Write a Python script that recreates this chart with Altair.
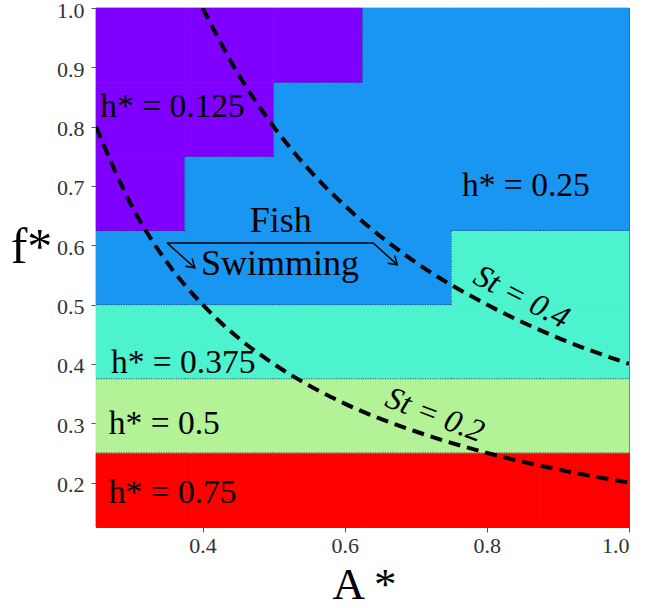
import altair as alt
import pandas as pd

# ---- data ----
A_EDGES = [0.25, 0.375, 0.5, 0.625, 0.75, 0.875, 1.0]
F_EDGES = [0.125, 0.25, 0.375, 0.5, 0.625, 0.75, 0.875, 1.0]
# h* per cell, rows from bottom (f=0.125) to top, columns from A=0.25 to 1.0
H_ROWS = [
    [0.75, 0.75, 0.75, 0.75, 0.75, 0.75],
    [0.5, 0.5, 0.5, 0.5, 0.5, 0.5],
    [0.375, 0.375, 0.375, 0.375, 0.375, 0.375],
    [0.25, 0.25, 0.25, 0.25, 0.375, 0.375],
    [0.125, 0.25, 0.25, 0.25, 0.25, 0.25],
    [0.125, 0.125, 0.25, 0.25, 0.25, 0.25],
    [0.125, 0.125, 0.125, 0.25, 0.25, 0.25],
]
H_LEVELS = [0.125, 0.25, 0.375, 0.5, 0.75]
H_COLORS = ["#8000ff", "#1996f2", "#4df2ce", "#b3f296", "#ff0000"]

ST02_A = [0.25, 0.3, 0.35, 0.4, 0.45, 0.5, 0.6, 0.7, 0.8, 0.9, 1.0]
ST02_F = [0.8, 0.667, 0.571, 0.5, 0.444, 0.4, 0.333, 0.286, 0.25, 0.222, 0.2]
ST04_A = [0.4, 0.45, 0.5, 0.55, 0.6, 0.7, 0.8, 0.9, 1.0]
ST04_F = [1.0, 0.889, 0.8, 0.727, 0.667, 0.571, 0.5, 0.444, 0.4]

X_TICKS = [0.4, 0.6, 0.8, 1.0]
Y_TICKS = [0.2, 0.3, 0.4, 0.5, 0.6, 0.7, 0.8, 0.9, 1.0]

REGION_TEXT = ["h* = 0.125", "h* = 0.25", "h* = 0.375", "h* = 0.5", "h* = 0.75"]
REGION_A = [0.256, 0.765, 0.271, 0.268, 0.268]
REGION_F = [0.816, 0.683, 0.385, 0.282, 0.1655]

# ---- tables ----
cells = []
for i, row in enumerate(H_ROWS):
    for j, h in enumerate(row):
        cells.append(dict(a0=A_EDGES[j], a1=A_EDGES[j + 1],
                          f0=F_EDGES[i], f1=F_EDGES[i + 1], h=h))
cells = pd.DataFrame(cells)

segs = []
for i, row in enumerate(H_ROWS):
    for j, h in enumerate(row):
        if i + 1 < len(H_ROWS) and H_ROWS[i + 1][j] != h:
            segs.append(dict(x=A_EDGES[j], x2=A_EDGES[j + 1],
                             y=F_EDGES[i + 1], y2=F_EDGES[i + 1]))
        if j + 1 < len(row) and row[j + 1] != h:
            segs.append(dict(x=A_EDGES[j + 1], x2=A_EDGES[j + 1],
                             y=F_EDGES[i], y2=F_EDGES[i + 1]))
segs = pd.DataFrame(segs)

curves = pd.DataFrame(
    [dict(A=a, f=f, St="0.2", o=k) for k, (a, f) in enumerate(zip(ST02_A, ST02_F))]
    + [dict(A=a, f=f, St="0.4", o=k) for k, (a, f) in enumerate(zip(ST04_A, ST04_F))]
)

regions = pd.DataFrame(dict(t=REGION_TEXT, A=REGION_A, f=REGION_F))

arrows = pd.DataFrame([
    dict(p="L", o=0, A=0.350, f=0.604), dict(p="L", o=1, A=0.389, f=0.562),
    dict(p="R", o=0, A=0.350, f=0.604), dict(p="R", o=1, A=0.640, f=0.604),
    dict(p="R", o=2, A=0.674, f=0.567),
])
heads = pd.DataFrame([dict(A=0.389, f=0.562), dict(A=0.674, f=0.567)])

fish = pd.DataFrame(dict(t=["Fish", "Swimming"], A=[0.510, 0.509], f=[0.622, 0.550]))
st_lab = pd.DataFrame(dict(t=["St = 0.4", "St = 0.2"], A=[0.849, 0.727],
                           f=[0.513, 0.314], ang=[27, 21]))

# ---- scales & axes ----
xs = alt.Scale(domain=[0.25, 1.0], nice=False, zero=False)
ys = alt.Scale(domain=[0.125, 1.0], nice=False, zero=False)
SERIF = "Liberation Serif"
AX = dict(labelFont=SERIF, labelFontSize=22, labelColor="#333",
          tickColor="#555", domainColor="#555", tickSize=5, grid=False,
          format=".1f", titleFont=SERIF, titleFontWeight="normal",
          titleColor="black", titleBaseline="alphabetic", titleAlign="center")
XAX = alt.Axis(values=X_TICKS, title="A\u2009*", labelPadding=3,
               titleFontSize=45, titleY=71, titleX=268, **AX)
YAX = alt.Axis(values=Y_TICKS, labelPadding=7, labelOffset=2, title="f*",
               titleAngle=0, titleFontSize=50, titleX=-65, titleY=254, **AX)


def X(field):
    return alt.X(field, scale=xs, axis=XAX)


def Y(field):
    return alt.Y(field, scale=ys, axis=YAX)


cscale = alt.Scale(type="ordinal", domain=H_LEVELS, range=H_COLORS)
rects = alt.Chart(cells).mark_rect(strokeWidth=0.8).encode(
    x=X("a0:Q"), x2="a1:Q", y=Y("f0:Q"), y2="f1:Q",
    color=alt.Color("h:Q", scale=cscale, legend=None),
    stroke=alt.Stroke("h:Q", scale=cscale, legend=None),
)

bounds = alt.Chart(segs).mark_rule(color="#202040", strokeWidth=1,
                                   strokeDash=[1, 1.5], opacity=0.8).encode(
    x=X("x:Q"), x2="x2:Q", y=Y("y:Q"), y2="y2:Q")

lines = alt.Chart(curves).mark_line(color="black", strokeWidth=4,
                                    strokeDash=[12, 7], clip=True,
                                    interpolate="monotone").encode(
    x=X("A:Q"), y=Y("f:Q"), detail="St:N", order="o:Q")

region_txt = alt.Chart(regions).mark_text(font=SERIF, fontSize=33.5, align="left",
                                          baseline="alphabetic", color="black").encode(
    x=X("A:Q"), y=Y("f:Q"), text="t:N")

fish_txt = alt.Chart(fish).mark_text(font=SERIF, fontSize=36, align="center",
                                     baseline="alphabetic", color="black").encode(
    x=X("A:Q"), y=Y("f:Q"), text="t:N")

st_txt = alt.Chart(st_lab).mark_text(font=SERIF, fontSize=32, fontStyle="italic",
                                     align="center", baseline="middle",
                                     color="black").encode(
    x=X("A:Q"), y=Y("f:Q"), text="t:N", angle=alt.Angle("ang:Q", scale=None))

arrow_lines = alt.Chart(arrows).mark_line(color="black", strokeWidth=1.5).encode(
    x=X("A:Q"), y=Y("f:Q"), detail="p:N", order="o:Q")

arrow_heads = alt.Chart(heads).mark_point(
    shape="M -0.7 1.1 L 0 0 L 0.7 1.1", filled=False, color="black",
    strokeWidth=1.5, size=220, angle=132, opacity=1).encode(
    x=X("A:Q"), y=Y("f:Q"))

chart = alt.layer(rects, bounds, lines, region_txt, fish_txt, st_txt,
                  arrow_lines, arrow_heads).properties(
    width=533, height=519,
    autosize=alt.AutoSizeParams(type="none"),
    padding={"left": 96, "top": 8, "right": 17, "bottom": 81},
).configure_view(stroke="#555", strokeWidth=1).configure_axis(grid=False)

chart.save("out.html", embed_options={"renderer": "svg", "actions": False})
